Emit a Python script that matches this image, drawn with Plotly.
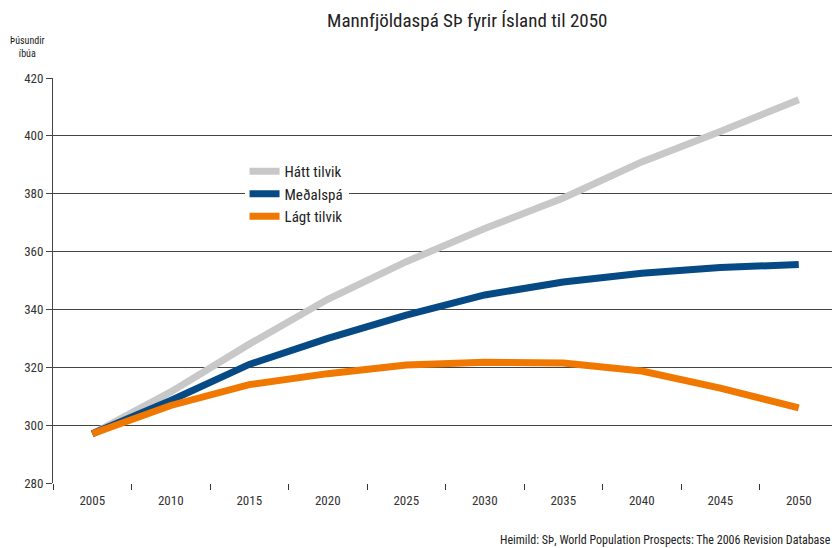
import plotly.graph_objects as go

years = ["2005", "2010", "2015", "2020", "2025", "2030", "2035", "2040", "2045", "2050"]
hatt = [297, 311.5, 328, 343.5, 356.5, 368, 378.5, 391, 401.5, 412.5]
medal = [297, 308.5, 321, 330, 338, 345, 349.5, 352.5, 354.5, 355.5]
lagt = [297, 306.8, 314, 317.8, 320.8, 321.7, 321.5, 318.7, 312.8, 306]
y_ticks = [280, 300, 320, 340, 360, 380, 400, 420]

FONT = "Liberation Sans Narrow, Arial Narrow, Roboto Condensed, sans-serif"

fig = go.Figure()
for name, vals, col in [("Hátt tilvik", hatt, "#c8c8c8"),
                        ("Meðalspá", medal, "#064a85"),
                        ("Lágt tilvik", lagt, "#f07800")]:
    fig.add_trace(go.Scatter(x=years, y=vals, name=name, mode="lines",
                             line=dict(color=col, width=7)))

fig.update_layout(
    width=832, height=540,
    paper_bgcolor="white", plot_bgcolor="white",
    margin=dict(l=45, r=2, t=70, b=65),
    font=dict(family=FONT, size=13, color="#333"),
    title=dict(text="Mannfjöldaspá SÞ fyrir Ísland til 2050", x=0.552, xanchor="center",
               y=0.978, yanchor="middle", font=dict(size=19, color="#222", family=FONT)),
    showlegend=True,
    legend=dict(x=0.244, y=0.81, xanchor="left", yanchor="top", bgcolor="white",
                font=dict(size=15, family=FONT, color="#222"), tracegroupgap=0),
    xaxis=dict(type="category", range=[-0.5, 9.5], showgrid=False, showline=False,
               ticks="outside", tickson="boundaries", ticklen=6, tickcolor="#333",
               tickwidth=1, tickfont=dict(size=13), ticklabelstandoff=8),
    yaxis=dict(range=[280, 420], tickvals=y_ticks, showgrid=True, gridcolor="#444",
               gridwidth=1, showline=True, linecolor="#444", ticks="outside",
               ticklen=6, tickcolor="#444", tickfont=dict(size=13), zeroline=False),
    annotations=[
        dict(text="Þúsundir<br>íbúa", x=(27 - 53) / 785, y=1 + (78 - 47) / 405,
             xref="paper", yref="paper", xanchor="center", yanchor="middle",
             showarrow=False, font=dict(size=10, family=FONT, color="#222")),
        dict(text="Heimild: SÞ, World Population Prospects: The 2006 Revision Database",
             xref="paper", yref="paper", x=0.993, y=-0.14, xanchor="right", yanchor="middle",
             showarrow=False, font=dict(size=12, family=FONT, color="#222")),
    ],
)
fig.write_html("out.html")
